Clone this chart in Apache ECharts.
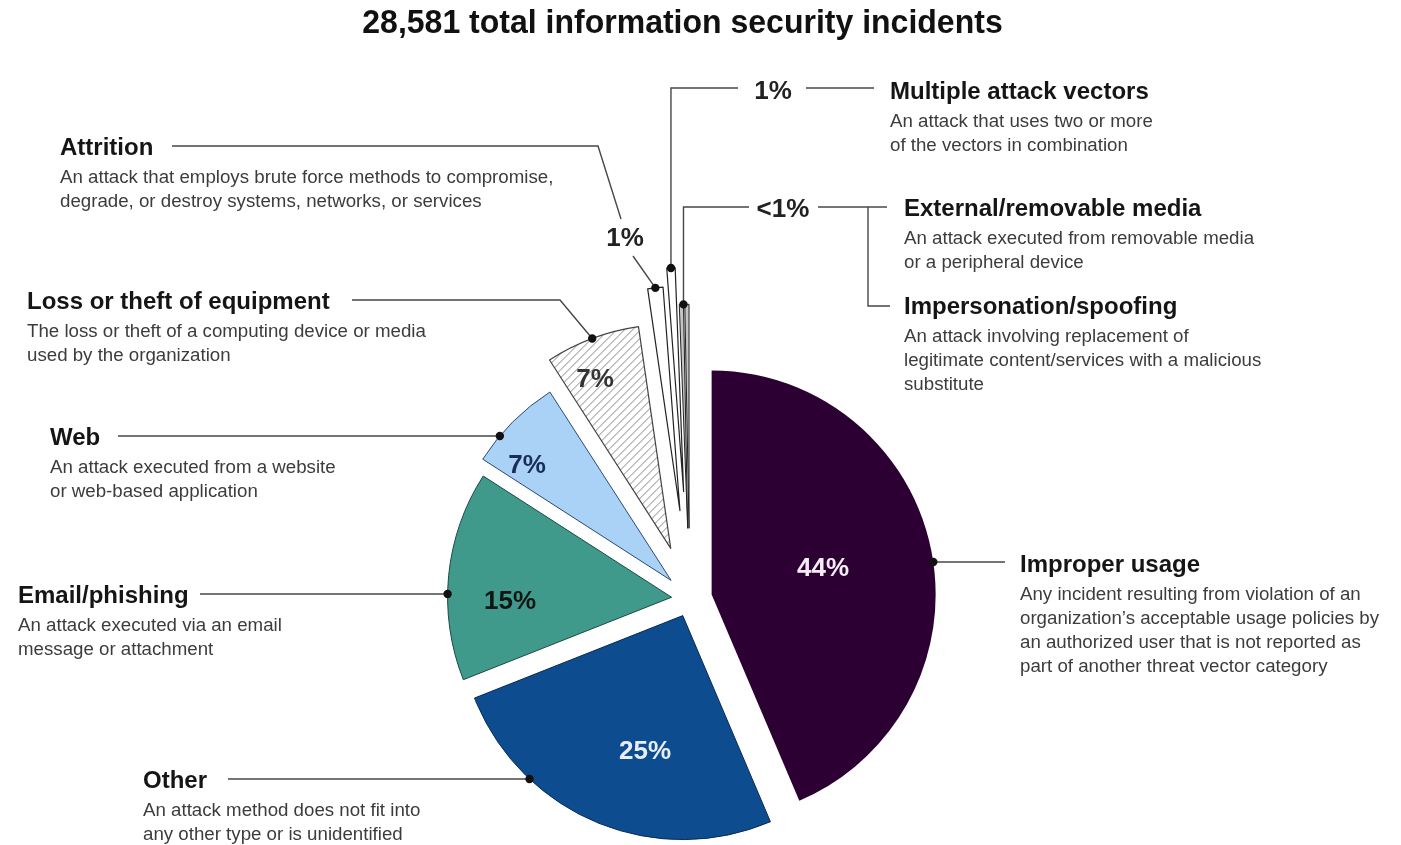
<!DOCTYPE html>
<html>
<head>
<meta charset="utf-8">
<title>28,581 total information security incidents</title>
<script src="https://cdn.jsdelivr.net/npm/echarts@6/dist/echarts.min.js"></script>
<style>
    html, body { margin: 0; padding: 0; background: #fff; }
    #main { width: 1401px; height: 845px; }
</style>
</head>
<body>
<div id="main"></div>
<script>
// ---- data (clockwise from 12 o'clock) ----
var titleText = '28,581 total information security incidents';
var names = ['Improper usage', 'Other', 'Email/phishing', 'Web', 'Loss or theft of equipment',
    'Attrition', 'Multiple attack vectors', 'External/removable media', 'Impersonation/spoofing'];
var shares = [43.6, 25.4, 15.1, 6.8, 6.8, 1.1, 0.6, 0.3, 0.3];
var descriptions = [
    ['Any incident resulting from violation of an', 'organization\u2019s acceptable usage policies by',
        'an authorized user that is not reported as', 'part of another threat vector category'],
    ['An attack method does not fit into', 'any other type or is unidentified'],
    ['An attack executed via an email', 'message or attachment'],
    ['An attack executed from a website', 'or web-based application'],
    ['The loss or theft of a computing device or media', 'used by the organization'],
    ['An attack that employs brute force methods to compromise,', 'degrade, or destroy systems, networks, or services'],
    ['An attack that uses two or more', 'of the vectors in combination'],
    ['An attack executed from removable media', 'or a peripheral device'],
    ['An attack involving replacement of', 'legitimate content/services with a malicious', 'substitute']
];

// ---- layout / style ----
var center = [689.7, 599], radius = 224;
var explode = [22.4, 18, 18.2, 26.3, 54.1, 89, 107.6, 70.7, 70.7];
var FONT = 'Arial, "Liberation Sans", Helvetica, sans-serif';

// hatch for loss/theft slice
var hatch = document.createElement('canvas');
hatch.width = 8; hatch.height = 8;
(function () {
    var g = hatch.getContext('2d');
    g.fillStyle = '#ffffff';
    g.fillRect(0, 0, 8, 8);
    g.strokeStyle = '#8a8a8a';
    g.lineWidth = 1;
    g.beginPath();
    g.moveTo(-1, 9); g.lineTo(9, -1);
    g.moveTo(-5, 5); g.lineTo(5, -5);
    g.moveTo(3, 13); g.lineTo(13, 3);
    g.stroke();
})();

var fills = ['#2c0033', '#0d4c8f', '#3f9a8c', '#aad1f6', { image: hatch, repeat: 'repeat' },
    '#ffffff', '#ffffff', '#c4c4c4', '#c4c4c4'];
var strokes = ['#2c0033', '#0a2d55', '#1d4a44', '#2a4a7a', '#444444', '#222222', '#222222', '#222222', '#222222'];
var strokeW = [0, 1, 1, 1, 1.2, 1.2, 1.2, 1, 1];

var labelBoxes = [
    [1020, 563], [143, 779], [18, 594], [50, 436], [27, 300],
    [60, 146], [890, 90], [904, 207], [904, 305]
];
var pctPos = [[823, 567], [645, 750], [510, 600], [527, 464], [595, 378], [625, 237], [773, 90], [783, 208], null];
var pctColors = ['#f4eef4', '#e6eef8', '#141414', '#1b2d57', '#333333', '#222', '#222', '#222'];

var leaders = [
    { mode: 'h', x: 1005, y: 562 },
    { mode: 'h', x: 228, y: 779 },
    { mode: 'h', x: 200, y: 594 },
    { mode: 'h', x: 118, y: 436 },
    { mode: 'p', pts: [[352, 300], [560, 300]] },
    { mode: 'p', pts: [[633, 256]] },
    { mode: 'v', x: 738, y: 88 },
    { mode: 'v', x: 749, y: 207, edge: true },
    null
];
var extraLines = [
    [[172, 146], [598, 146], [621, 219]],
    [[806, 88], [874, 88]],
    [[818, 207], [887, 207]],
    [[868, 207], [868, 306], [890, 306]]
];

// ---- geometry mirrored from the pie layout ----
var total = shares.reduce(function (a, b) { return a + b; }, 0);
function dir(deg) { var r = deg * Math.PI / 180; return [Math.sin(r), -Math.cos(r)]; }
var geo = [], acc = 0;
shares.forEach(function (v, i) {
    var a0 = acc / total * 360; acc += v;
    var a1 = acc / total * 360, mid = (a0 + a1) / 2, u = dir(mid);
    geo.push({ a0: a0, a1: a1, mid: mid, apex: [center[0] + explode[i] * u[0], center[1] + explode[i] * u[1]] });
});
function arcPoint(i, deg) {
    var u = dir(deg);
    return [geo[i].apex[0] + radius * u[0], geo[i].apex[1] + radius * u[1]];
}
function arcAtY(i, y) {
    var c = Math.max(-1, Math.min(1, (geo[i].apex[1] - y) / radius));
    var a = Math.acos(c) * 180 / Math.PI;
    return arcPoint(i, geo[i].mid > 180 ? 360 - a : a);
}
function pctText(v) { var r = Math.round(v); return r < 1 ? '<1%' : r + '%'; }

// ---- series: one pie per exploded slice ----
var series = names.map(function (n, k) {
    return {
        type: 'pie', center: center, radius: radius, startAngle: 90, clockwise: true,
        selectedMode: 'single', selectedOffset: explode[k],
        silent: true, animation: false, avoidLabelOverlap: false,
        label: { show: false }, labelLine: { show: false },
        emphasis: { disabled: true },
        data: names.map(function (nm, i) {
            var on = i === k;
            var st = on ? { color: fills[i], borderColor: strokes[i], borderWidth: strokeW[i] }
                        : { color: 'rgba(0,0,0,0)', borderWidth: 0 };
            return { name: nm, value: shares[i], selected: on, itemStyle: st, select: { itemStyle: st } };
        })
    };
});

// ---- annotations ----
var els = [];
function text(x, y, str, font, fill, align, sx) {
    els.push({
        type: 'text', x: x, y: y, z: 20, silent: true, scaleX: sx || 1,
        style: { text: str, font: font, fill: fill, align: align || 'left', verticalAlign: 'middle',
            textAlign: align || 'left', textVerticalAlign: 'middle' }
    });
}
function line(pts) {
    els.push({ type: 'polyline', z: 15, silent: true, shape: { points: pts },
        style: { stroke: '#474747', lineWidth: 1.4, fill: null } });
}
function dot(p) {
    els.push({ type: 'circle', z: 16, silent: true, shape: { cx: p[0], cy: p[1], r: 4.2 }, style: { fill: '#111' } });
}

text(682.5, 24, titleText, 'bold 33px ' + FONT, '#111', 'center', 0.97);

names.forEach(function (nm, i) {
    var b = labelBoxes[i];
    text(b[0], b[1] + 2, nm, 'bold 24px ' + FONT, '#151515');
    descriptions[i].forEach(function (s, j) {
        text(b[0], b[1] + 32 + j * 24, s, '18.7px ' + FONT, '#3c3c3c');
    });

    var L = leaders[i];
    if (L) {
        var p;
        if (L.mode === 'h') {
            p = arcAtY(i, L.y);
            line([[L.x, L.y], [p[0], L.y]]);
        } else if (L.mode === 'p') {
            p = arcPoint(i, geo[i].mid);
            line(L.pts.concat([p]));
        } else {
            p = arcPoint(i, L.edge ? geo[i].a1 : geo[i].mid);
            line([[L.x, L.y], [p[0], L.y], p]);
        }
        dot(p);
    }

    if (pctPos[i]) {
        text(pctPos[i][0], pctPos[i][1] + 2, pctText(shares[i]), 'bold 26px ' + FONT, pctColors[i], 'center');
    }
});
extraLines.forEach(line);

var chart = echarts.init(document.getElementById('main'));
chart.setOption({
    backgroundColor: '#ffffff',
    animation: false,
    series: series,
    graphic: { elements: els }
});
window.onresize = function () { chart.resize(); };
</script>
</body>
</html>
